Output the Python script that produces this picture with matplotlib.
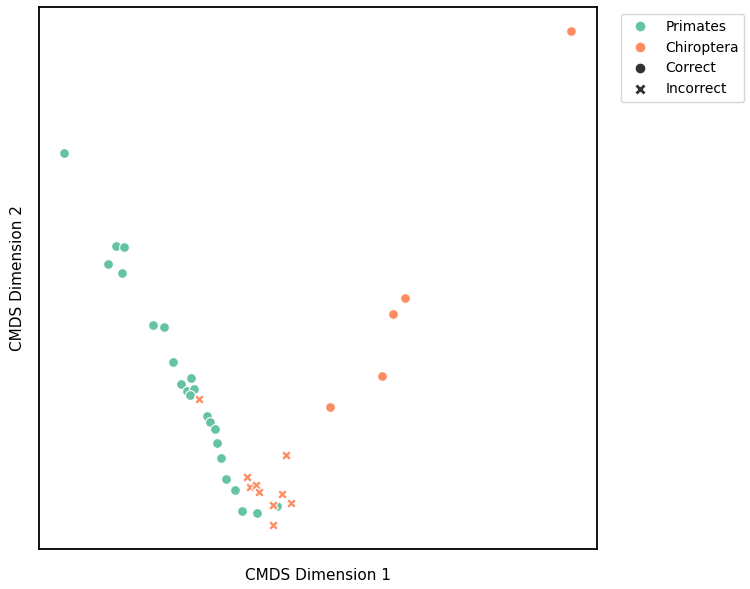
import matplotlib
matplotlib.use("Agg")
import matplotlib.pyplot as plt
from matplotlib.lines import Line2D

prim_x = [25,77,85,69,83,114,125,134,142,152,148,155,151,168,171,176,178,182,187,196,203,218,238]
prim_y = [396,303,302,285,276,224,222,187,165,171,158,160,154,133,127,120,106,91,70,59,38,36,43]
chir_x = [532,366,354,343,291]
chir_y = [518,251,235,173,142]
chir_inc_x = [160,247,208,211,217,220,243,252,234,234]
chir_inc_y = [150,94,72,62,64,57,55,46,44,24]

green = "#66c2a5"; orange = "#fc8d62"
fig = plt.figure(figsize=(7.5,5.89), dpi=100)
ax = fig.add_axes([0.052,0.068,0.744,0.920])
ax.scatter(prim_x, prim_y, s=50, c=green, edgecolors="white", linewidths=0.8, marker="o")
ax.scatter(chir_x, chir_y, s=50, c=orange, edgecolors="white", linewidths=0.8, marker="o")
ax.scatter(chir_inc_x, chir_inc_y, s=50, c=orange, edgecolors="white", linewidths=0.8, marker="X")
ax.set_xlim(0,558); ax.set_ylim(0,542)
ax.set_xticks([]); ax.set_yticks([])
for s in ax.spines.values():
    s.set_linewidth(1.3)
ax.set_xlabel("CMDS Dimension 1", fontsize=11, labelpad=14)
ax.set_ylabel("CMDS Dimension 2", fontsize=11, labelpad=10)
handles = [
    Line2D([],[],marker="o",ls="",color=green,markeredgecolor="white",markersize=8,label="Primates"),
    Line2D([],[],marker="o",ls="",color=orange,markeredgecolor="white",markersize=8,label="Chiroptera"),
    Line2D([],[],marker="o",ls="",color="#333333",markeredgecolor="white",markersize=8,label="Correct"),
    Line2D([],[],marker="X",ls="",color="#333333",markeredgecolor="white",markersize=8,label="Incorrect"),
]
ax.legend(handles=handles, loc="upper left", bbox_to_anchor=(1.03,1.0), fontsize=10)
fig.savefig("out.png", dpi=100)
